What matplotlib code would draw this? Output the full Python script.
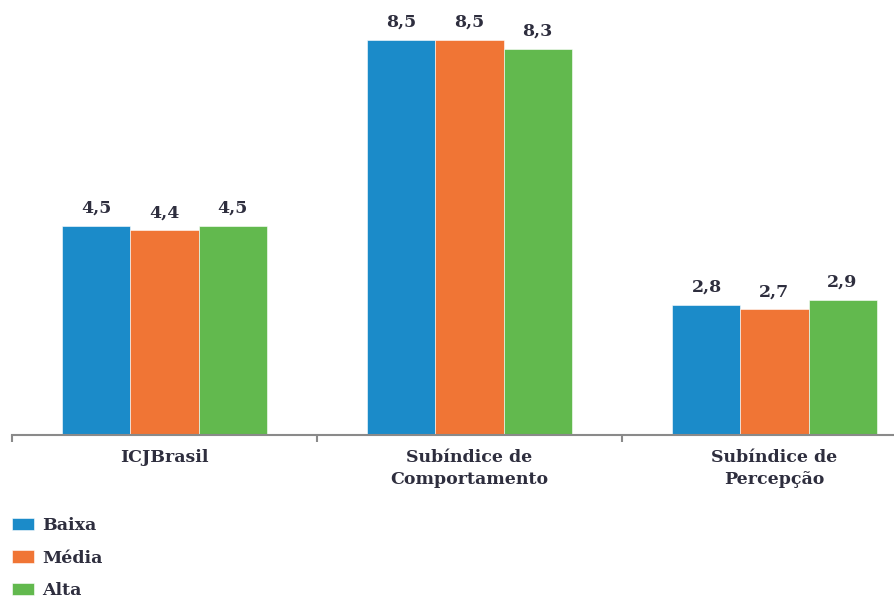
import matplotlib.pyplot as plt
import numpy as np

categorias = ["ICJBrasil", "Subíndice de\nComportamento", "Subíndice de\nPercepção"]
series = ["Baixa", "Média", "Alta"]
baixa = [4.5, 8.5, 2.8]
media = [4.4, 8.5, 2.7]
alta = [4.5, 8.3, 2.9]
cores = ["#1b8bc9", "#f07535", "#62b94e"]

plt.rcParams['font.family'] = ['DejaVu Serif']
cor_texto = "#2e2e3e"

fig = plt.figure(figsize=(8.94, 6.01), dpi=100)
ax = fig.add_axes([12 / 894, 1 - 435 / 601, 882 / 894, 435 / 601])

x = np.arange(len(categorias))
w = 0.223
barras = []
for i, (vals, nome) in enumerate(zip([baixa, media, alta], series)):
    b = ax.bar(x + (i - 1) * w, vals, width=w, color=cores[i], label=nome,
               edgecolor="white", linewidth=0.4)
    barras.append(b)
    for xi, v in zip(x + (i - 1) * w, vals):
        ax.text(xi, v + 0.2, f"{v:.1f}".replace(".", ","), ha="center", va="bottom",
                fontsize=12.5, fontweight="bold", color=cor_texto)

ax.set_yticks([])
for s in ["top", "right", "left"]:
    ax.spines[s].set_visible(False)
ax.spines["bottom"].set_color("#8a8a8a")
ax.spines["bottom"].set_linewidth(1.5)

ax.set_xticks([-0.5, 0.5, 1.5, 2.5])
ax.set_xticklabels([])
ax.tick_params(axis="x", length=5, color="#8a8a8a", width=1.5)
ax.set_xlim(-0.5, -0.5 + 882 / 305)
ax.set_ylim(0, 435 / 46.5)

for xi, lab in zip(x, categorias):
    ax.text(xi, -0.3, lab, ha="center", va="top", fontsize=12.5, fontweight="bold",
            color=cor_texto, linespacing=1.35, clip_on=False)

leg = fig.legend(handles=barras, labels=series, loc="upper left",
                 bbox_to_anchor=(12 / 894, 1 - 517 / 601), frameon=False,
                 handlelength=1.25, handleheight=0.7, labelspacing=0.9,
                 handletextpad=0.5, borderaxespad=0.0, borderpad=0.0,
                 prop={"weight": "bold", "size": 12.5})
for t in leg.get_texts():
    t.set_color(cor_texto)

fig.savefig("out.png", dpi=100)
